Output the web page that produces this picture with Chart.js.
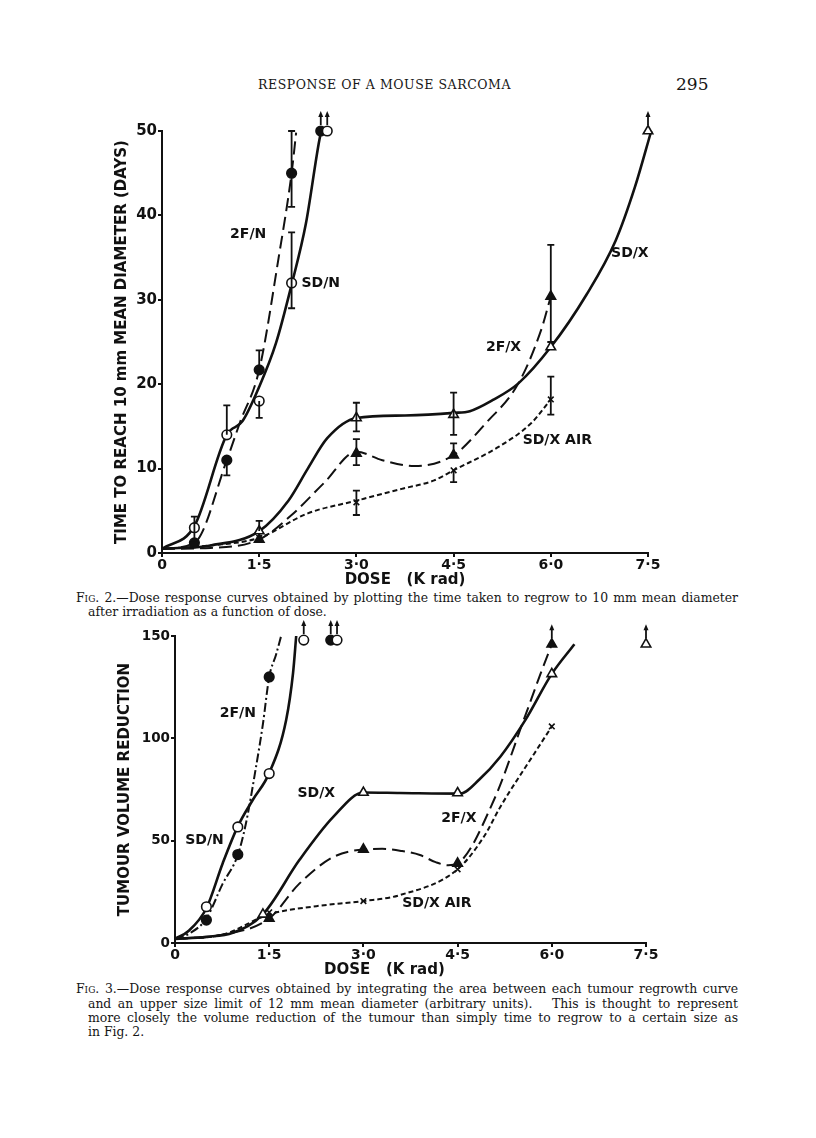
<!DOCTYPE html>
<html>
<head>
<meta charset="utf-8">
<script src="https://cdn.jsdelivr.net/npm/chart.js@4.4.0/dist/chart.umd.min.js"></script>
<style>
body { margin: 0; background: #fff; width: 816px; height: 1138px; position: relative; overflow: hidden; font-family: 'DejaVu Serif', serif; color: #161616; }
.abs { position: absolute; white-space: nowrap; }
.cap { position: absolute; font-size: 12.4px; line-height: 14px; white-space: nowrap; }
.just { white-space: normal; text-align: justify; text-align-last: justify; }
.sc { font-variant: small-caps; }
canvas { position: absolute; }
</style>
</head>
<body>

<div class="abs" style="left:258px; top:77px; font-size:12.5px; letter-spacing:0.55px;">RESPONSE OF A MOUSE SARCOMA</div>
<div class="abs" style="left:676px; top:74px; font-size:17px;">295</div>

<canvas id="fig2" width="580" height="489" style="left:110px; top:100px;"></canvas>

<div class="cap just" style="left:76px; top:591px; width:662px;"><span class="sc">Fig.</span> 2.—Dose response curves obtained by plotting the time taken to regrow to 10 mm mean diameter</div>
<div class="cap" style="left:88px; top:605px;">after irradiation as a function of dose.</div>

<canvas id="fig3" width="560" height="374" style="left:113px; top:605px;"></canvas>

<div class="cap just" style="left:76px; top:982px; width:662px;"><span class="sc">Fig.</span> 3.—Dose response curves obtained by integrating the area between each tumour regrowth curve</div>
<div class="cap just" style="left:88px; top:997px; width:650px;">and an upper size limit of 12 mm mean diameter (arbitrary units).&nbsp;&nbsp; This is thought to represent</div>
<div class="cap just" style="left:88px; top:1011px; width:650px;">more closely the volume reduction of the tumour than simply time to regrow to a certain size as</div>
<div class="cap" style="left:88px; top:1025px;">in Fig. 2.</div>

<script>
// ---- shared axis ticks ----
const doseTicks = [0, 1.5, 3.0, 4.5, 6.0, 7.5];
const fig2DayTicks = [0, 10, 20, 30, 40, 50];
const fig3RedTicks = [0, 50, 100, 150];

// ---- Fig. 2 : time to reach 10 mm (days) ----
// measured points
const f2SdnDose = [0.5, 1.0, 1.5, 2.0, 2.55];
const f2SdnDays = [3, 14, 18, 32, 50];
const f2SdnLo   = [1.5, null, 16, 29, null];
const f2SdnHi   = [4.3, 17.5, null, 38, null];

const f2FnDose = [0.5, 1.0, 1.5, 2.0, 2.45];
const f2FnDays = [1.2, 11, 21.7, 45, 50];
const f2FnLo   = [null, 9.2, null, 41, null];
const f2FnHi   = [null, null, 24, 50, null];

const f2SdxDose = [1.5, 3.0, 4.5, 6.0, 7.5];
const f2SdxDays = [2.6, 16, 16.4, 24.4, 50];
const f2SdxLo   = [null, 14.4, 14, null, null];
const f2SdxHi   = [3.8, 17.8, 19, null, null];

const f2FxDose = [1.5, 3.0, 4.5, 6.0];
const f2FxDays = [1.6, 11.8, 11.6, 30.4];
const f2FxLo   = [null, 10.4, null, 25];
const f2FxHi   = [null, 13.5, 13, 36.5];

const f2AirDose = [1.5, 3.0, 4.5, 6.0];
const f2AirDays = [1.8, 6.0, 9.8, 18.2];
const f2AirLo   = [null, 4.5, 8.4, 16.4];
const f2AirHi   = [null, 7.4, null, 20.9];

// fitted curves as drawn
const f2SdnCurveX = [0, 0.5, 1.0, 1.24, 1.5, 1.76, 2.0, 2.22, 2.43, 2.46];
const f2SdnCurveY = [0.5, 3.2, 14, 15.6, 19.7, 24.9, 31.8, 39, 49, 50];
const f2FnCurveX = [0, 0.5, 1.0, 1.2, 1.5, 1.8, 2.0, 2.07];
const f2FnCurveY = [0.5, 1.2, 11, 15.4, 21.7, 35, 45, 49.8];
const f2SdxCurveX = [0, 0.75, 1.5, 1.95, 2.25, 2.55, 3.0, 3.75, 4.5, 4.75, 5.1, 5.5, 6.0, 6.55, 7.0, 7.3, 7.55];
const f2SdxCurveY = [0.5, 0.9, 2.6, 6.2, 10, 13.6, 16, 16.3, 16.6, 16.8, 18.1, 20.1, 24.4, 30.6, 37, 43.4, 50];
const f2FxCurveX = [0, 0.75, 1.5, 2.0, 2.5, 3.0, 3.4, 3.9, 4.5, 5.0, 5.5, 5.85, 6.0];
const f2FxCurveY = [0.5, 0.6, 1.6, 4.5, 8.3, 12, 11, 10.3, 11.6, 15.4, 20.1, 26.4, 30.4];
const f2AirCurveX = [0, 0.75, 1.5, 2.25, 3.0, 3.7, 4.2, 4.5, 5.2, 5.7, 6.0];
const f2AirCurveY = [0.5, 0.9, 1.8, 4.7, 6.2, 7.6, 8.6, 9.8, 12.6, 15.4, 18.2];

// ---- Fig. 3 : tumour volume reduction ----
const f3SdnDose = [0.5, 1.0, 1.5, 2.05, 2.58];
const f3SdnRed  = [17.7, 56.7, 82.8, 148, 148];
const f3FnDose = [0.5, 1.0, 1.5, 2.48];
const f3FnRed  = [11.2, 43.2, 130, 148];
const f3SdxDose = [1.4, 3.0, 4.5, 6.0, 7.5];
const f3SdxRed  = [14, 73.5, 73.3, 131.5, 146];
const f3FxDose = [1.5, 3.0, 4.5, 6.0];
const f3FxRed  = [12, 45.7, 38.9, 146];
const f3AirDose = [1.5, 3.0, 4.5, 6.0];
const f3AirRed  = [15, 20.5, 36, 105.8];

const f3SdnCurveX = [0, 0.22, 0.5, 0.76, 1.0, 1.24, 1.5, 1.77, 1.88, 1.93];
const f3SdnCurveY = [2, 6, 17, 39, 57, 70, 83, 109, 132, 150];
const f3FnCurveX = [0, 0.25, 0.5, 0.76, 1.0, 1.13, 1.29, 1.4, 1.5, 1.61, 1.69];
const f3FnCurveY = [2, 5, 12, 29, 43, 58.5, 86, 107, 130, 141, 150];
const f3SdxCurveX = [0, 0.5, 0.92, 1.4, 1.98, 2.52, 3.0, 3.58, 4.54, 4.85, 5.18, 5.58, 6.0, 6.36];
const f3SdxCurveY = [2, 3, 5, 14, 40.5, 61.6, 73.5, 73.3, 73, 80, 91, 109, 131.5, 146];
const f3FxCurveX = [0, 0.75, 1.5, 1.98, 2.52, 3.0, 3.3, 3.6, 3.9, 4.15, 4.35, 4.5, 5.08, 5.56, 5.82, 6.0];
const f3FxCurveY = [2, 4, 12, 29, 42, 45.7, 46, 45, 43, 39.5, 38, 38.9, 70, 109.6, 131.5, 146];
const f3AirCurveX = [0, 0.75, 1.5, 2.25, 3.0, 3.58, 4.5, 4.92, 5.18, 5.72, 6.0];
const f3AirCurveY = [2, 4, 14, 18, 20.5, 23.4, 36, 52, 66.5, 92.5, 105.8];

const pts = (xs, ys) => xs.map((x, i) => ({ x: x, y: ys[i] }));

function curve(xs, ys, dash, width) {
  return {
    data: pts(xs, ys), showLine: true, pointRadius: 0, borderColor: '#111',
    borderWidth: width || 2.4, borderDash: dash || [], cubicInterpolationMode: 'monotone',
    fill: false, order: 2, clip: false
  };
}
function marks(xs, ys, style, filled, extra) {
  return Object.assign({
    data: pts(xs, ys), showLine: false, pointStyle: style,
    pointRadius: style === 'triangle' ? 5.5 : (style === 'crossRot' ? 4 : 4.8),
    pointBackgroundColor: filled ? '#111' : '#fff', pointBorderColor: '#111',
    pointBorderWidth: 1.6, order: 1, clip: false
  }, extra || {});
}

// error bars, off-scale arrows and curve names
const extras = {
  id: 'extras',
  afterDatasetsDraw(chart, args, opts) {
    const ctx = chart.ctx, xs = chart.scales.x, ys = chart.scales.y;
    ctx.save();
    ctx.strokeStyle = '#111';
    ctx.fillStyle = '#111';
    ctx.lineWidth = 1.8;
    chart.data.datasets.forEach((ds, i) => {
      const meta = chart.getDatasetMeta(i);
      if (ds.errLo || ds.errHi) {
        ds.data.forEach((p, j) => {
          const lo = ds.errLo ? ds.errLo[j] : null, hi = ds.errHi ? ds.errHi[j] : null;
          if (lo == null && hi == null) return;
          const x = meta.data[j].x;
          const y1 = ys.getPixelForValue(lo == null ? p.y : lo);
          const y2 = ys.getPixelForValue(hi == null ? p.y : hi);
          ctx.beginPath();
          ctx.moveTo(x, y1); ctx.lineTo(x, y2);
          if (lo != null) { ctx.moveTo(x - 3.5, y1); ctx.lineTo(x + 3.5, y1); }
          if (hi != null) { ctx.moveTo(x - 3.5, y2); ctx.lineTo(x + 3.5, y2); }
          ctx.stroke();
        });
      }
      if (ds.arrows) {
        ds.arrows.forEach(j => {
          const el = meta.data[j];
          const x = el.x, y = el.y - 6;
          ctx.beginPath();
          ctx.moveTo(x, y); ctx.lineTo(x, y - 10);
          ctx.stroke();
          ctx.beginPath();
          ctx.moveTo(x, y - 14); ctx.lineTo(x - 2.5, y - 8); ctx.lineTo(x + 2.5, y - 8);
          ctx.closePath(); ctx.fill();
        });
      }
    });
    ctx.font = 'bold 14px "DejaVu Sans"';
    ctx.textAlign = 'center';
    ctx.textBaseline = 'middle';
    (opts.labels || []).forEach(l => {
      ctx.fillText(l.text, xs.getPixelForValue(l.x), ys.getPixelForValue(l.y));
    });
    ctx.restore();
  }
};

const fmtDose = v => v === 0 ? '0' : v.toFixed(1).replace('.', '·');

function axes(yMax, yTicks, yTitle, yWidth, yTickSize, xTitle, titlePadBottom) {
  const grid = { display: true, drawOnChartArea: false, drawTicks: true, tickLength: 4, color: '#111', lineWidth: 2 };
  const border = { display: true, color: '#111', width: 2 };
  return {
    x: {
      type: 'linear', min: 0, max: 7.5, grid: grid, border: border,
      afterBuildTicks: s => { s.ticks = doseTicks.map(v => ({ value: v })); },
      afterFit: s => { s.height = 36; },
      ticks: { color: '#111', font: { family: 'DejaVu Sans', weight: 'bold', size: 14 }, padding: 0, maxRotation: 0, callback: fmtDose },
      title: { display: true, text: xTitle, color: '#111', font: { family: 'DejaVu Sans', weight: 'bold', size: 15 }, padding: { top: 0, bottom: titlePadBottom } }
    },
    y: {
      type: 'linear', min: 0, max: yMax, grid: grid, border: border,
      afterBuildTicks: s => { s.ticks = yTicks.map(v => ({ value: v })); },
      afterFit: s => { s.width = yWidth; },
      ticks: { color: '#111', font: { family: 'DejaVu Sans', weight: 'bold', size: yTickSize }, padding: 1 },
      title: { display: true, text: yTitle, color: '#111', font: { family: 'DejaVu Sans', weight: 'bold', size: 15 }, padding: { top: 3, bottom: 0 } }
    }
  };
}

const common = {
  responsive: false, animation: false,
  plugins: { legend: { display: false }, tooltip: { enabled: false } }
};

new Chart(document.getElementById('fig2'), {
  type: 'scatter',
  data: {
    datasets: [
      marks(f2SdnDose, f2SdnDays, 'circle', false, { errLo: f2SdnLo, errHi: f2SdnHi, arrows: [4] }),
      marks(f2FnDose, f2FnDays, 'circle', true, { errLo: f2FnLo, errHi: f2FnHi, arrows: [4] }),
      marks(f2SdxDose, f2SdxDays, 'triangle', false, { errLo: f2SdxLo, errHi: f2SdxHi, arrows: [4] }),
      marks(f2FxDose, f2FxDays, 'triangle', true, { errLo: f2FxLo, errHi: f2FxHi }),
      marks(f2AirDose, f2AirDays, 'crossRot', false, { errLo: f2AirLo, errHi: f2AirHi }),
      curve(f2SdnCurveX, f2SdnCurveY, [], 2.6),
      curve(f2FnCurveX, f2FnCurveY, [13, 6], 2),
      curve(f2SdxCurveX, f2SdxCurveY, [], 2.6),
      curve(f2FxCurveX, f2FxCurveY, [13, 6], 2),
      curve(f2AirCurveX, f2AirCurveY, [5, 3], 2)
    ]
  },
  options: Object.assign({}, common, {
    layout: { padding: { left: 0, top: 31, right: 42, bottom: 0 } },
    scales: axes(50, fig2DayTicks, 'TIME TO REACH 10 mm MEAN DIAMETER (DAYS)', 52, 15, 'DOSE   (K rad)', 0),
    plugins: Object.assign({}, common.plugins, {
      extras: { labels: [
        { text: '2F/N', x: 1.33, y: 37.7 },
        { text: 'SD/N', x: 2.45, y: 32 },
        { text: 'SD/X', x: 7.22, y: 35.5 },
        { text: '2F/X', x: 5.27, y: 24.4 },
        { text: 'SD/X AIR', x: 6.1, y: 13.4 }
      ] }
    })
  }),
  plugins: [extras]
});

new Chart(document.getElementById('fig3'), {
  type: 'scatter',
  data: {
    datasets: [
      marks(f3SdnDose, f3SdnRed, 'circle', false, { arrows: [3, 4] }),
      marks(f3FnDose, f3FnRed, 'circle', true, { arrows: [3] }),
      marks(f3SdxDose, f3SdxRed, 'triangle', false, { arrows: [4] }),
      marks(f3FxDose, f3FxRed, 'triangle', true, { arrows: [3] }),
      marks(f3AirDose, f3AirRed, 'crossRot', false),
      curve(f3SdnCurveX, f3SdnCurveY, [], 2.6),
      curve(f3FnCurveX, f3FnCurveY, [9, 3, 2, 3], 2),
      curve(f3SdxCurveX, f3SdxCurveY, [], 2.6),
      curve(f3FxCurveX, f3FxCurveY, [13, 6], 2),
      curve(f3AirCurveX, f3AirCurveY, [5, 3], 2)
    ]
  },
  options: Object.assign({}, common, {
    layout: { padding: { left: 0, top: 31, right: 27, bottom: 0 } },
    scales: axes(150, fig3RedTicks, 'TUMOUR VOLUME REDUCTION', 62, 13.5, 'DOSE   (K rad)          ', 0),
    plugins: Object.assign({}, common.plugins, {
      extras: { labels: [
        { text: '2F/N', x: 1.0, y: 112 },
        { text: 'SD/N', x: 0.47, y: 50 },
        { text: 'SD/X', x: 2.25, y: 73 },
        { text: '2F/X', x: 4.52, y: 60.8 },
        { text: 'SD/X AIR', x: 4.17, y: 19.4 }
      ] }
    })
  }),
  plugins: [extras]
});
</script>
</body>
</html>
